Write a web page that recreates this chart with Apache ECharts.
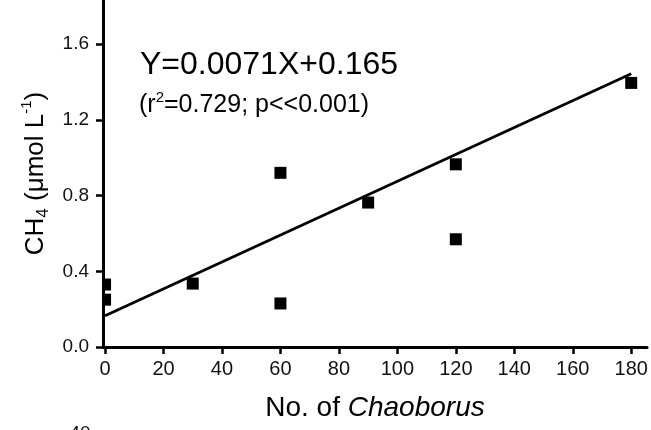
<!DOCTYPE html>
<html>
<head>
<meta charset="utf-8">
<script src="https://cdn.jsdelivr.net/npm/echarts@6/dist/echarts.min.js"></script>
<style>
html,body{margin:0;padding:0;background:#fff;}
#c{width:651px;height:430px;}
</style>
</head>
<body>
<div id="c"></div>
<script>
// Data
var chaoborus = [0, 0, 30, 60, 60, 90, 120, 120, 180];
var ch4 = [0.33, 0.25, 0.335, 0.92, 0.23, 0.763, 0.965, 0.569, 1.395];
var fitX = [0, 180];
var fitY = [0.165, 1.443];
var xTicks = [0, 20, 40, 60, 80, 100, 120, 140, 160, 180];
var yTicks = [0, 0.4, 0.8, 1.2, 1.6];
var eqText = 'Y=0.0071X+0.165';
var statText = '(r{sup|2}=0.729; p<<0.001)';

var FONT = '"Liberation Sans", Arial, sans-serif';
var chart = echarts.init(document.getElementById('c'), null, {renderer: 'canvas'});

var points = chaoborus.map(function (x, i) { return [x, ch4[i]]; });
var fit = fitX.map(function (x, i) { return [x, fitY[i]]; });

chart.setOption({
  animation: false,
  backgroundColor: '#fff',
  textStyle: {fontFamily: FONT},
  grid: {left: 103, right: 4, top: 0, bottom: 83, containLabel: false},
  xAxis: {
    type: 'value', min: -0.7, max: 185.4,
    name: '{n|No. of }{i|Chaoborus}',
    nameLocation: 'middle', nameGap: 47,
    nameTextStyle: {
      rich: {
        n: {fontSize: 28, fontFamily: FONT, color: '#000'},
        i: {fontSize: 28, fontFamily: FONT, fontStyle: 'italic', color: '#000'}
      }
    },
    axisLine: {show: true, onZero: false, lineStyle: {color: '#000', width: 3}},
    axisTick: {show: true, inside: false, length: 7, lineStyle: {color: '#000', width: 2.5}, customValues: xTicks},
    axisLabel: {show: true, fontSize: 20, color: '#111', margin: 12, fontFamily: FONT, customValues: xTicks},
    splitLine: {show: false}
  },
  yAxis: {
    type: 'value', min: 0, max: 1.833,
    name: 'CH{sub|4} ({m|μmol L}{sup|-1})',
    nameLocation: 'middle', nameGap: 50, nameRotate: 90,
    nameTextStyle: {
      fontSize: 26, color: '#000', fontFamily: FONT, lineHeight: 32,
      rich: {
        sub: {fontSize: 17, fontFamily: FONT, color: '#000', verticalAlign: 'bottom', lineHeight: 17},
        sup: {fontSize: 15, fontFamily: FONT, color: '#000', verticalAlign: 'top', lineHeight: 15},
        m: {fontSize: 26, fontFamily: FONT, color: '#000'}
      }
    },
    axisLine: {show: true, onZero: false, lineStyle: {color: '#000', width: 3}},
    axisTick: {show: true, inside: false, length: 7, lineStyle: {color: '#000', width: 2.5}, customValues: yTicks},
    axisLabel: {show: true, fontSize: 19, color: '#111', margin: 14, fontFamily: FONT, customValues: yTicks,
      formatter: function (v) { return v.toFixed(1); }},
    splitLine: {show: false}
  },
  series: [
    {
      type: 'line', data: fit, symbol: 'none', z: 3,
      lineStyle: {color: '#000', width: 2.8}
    },
    {
      type: 'custom', data: points, clip: true, z: 4,
      renderItem: function (params, api) {
        var p = api.coord([api.value(0), api.value(1)]);
        var s = 12;
        return {type: 'rect', shape: {x: p[0] - s / 2, y: p[1] - s / 2, width: s, height: s},
          style: {fill: '#000'}};
      }
    }
  ],
  graphic: [
    {type: 'text', x: 140, y: 65, style: {text: eqText, fontSize: 32, fontFamily: FONT, fill: '#000', verticalAlign: 'middle', align: 'left'}},
    {type: 'text', x: 139, y: 105, style: {text: statText, fontSize: 25, fontFamily: FONT, fill: '#000', verticalAlign: 'middle', align: 'left',
      rich: {sup: {fontSize: 15, fontFamily: FONT, fill: '#000', verticalAlign: 'top', lineHeight: 15}}, lineHeight: 30}},
    {type: 'text', x: 80, y: 434, style: {text: '40', fontSize: 19, fontFamily: FONT, fill: '#111', verticalAlign: 'middle', align: 'center'}}
  ]
});
</script>
</body>
</html>
